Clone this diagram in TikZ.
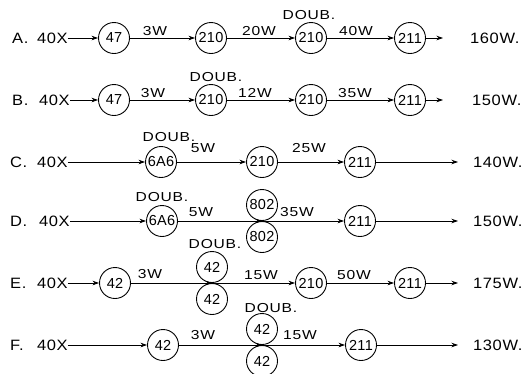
\documentclass[tikz,border=0pt]{standalone}
\usepackage{fontspec}
\setmainfont{Liberation Sans}
\newfontfamily\widesans[FakeStretch=1.2,LetterSpace=6]{Liberation Sans}
\newfontfamily\rowsans[FakeStretch=1.1,LetterSpace=4]{Liberation Sans}
\newfontfamily\tubesans[LetterSpace=2]{Liberation Sans}
\usetikzlibrary{arrows.meta}
\begin{document}
\begin{tikzpicture}[x=1pt,y=-1pt,
  tube/.style={circle, draw, line width=0.9pt, minimum size=31pt, inner sep=0pt, font=\tubesans\fontsize{14.5}{14.5}\selectfont},
  rowlab/.style={anchor=west, inner sep=0pt, font=\rowsans\fontsize{15}{15}\selectfont},
  outlab/.style={anchor=west, inner sep=0pt, font=\rowsans\fontsize{15}{15}\selectfont},
  wlab/.style={inner sep=0pt, font=\widesans\fontsize{13}{13}\selectfont},
  conn/.style={-{Stealth[length=6.5pt,width=4.5pt]}, line width=0.8pt}]
\useasboundingbox[fill=white] (0,0) rectangle (532,373);

% Row A
\node[rowlab] (Al) at (12,38) {A.};
\node[rowlab] (Ax) at (37,38) {40X};
\node[tube] (A1) at (114,38) {47};
\node[tube] (A2) at (211,38) {210};
\node[tube] (A3) at (311,38) {210};
\node[tube] (A4) at (410,38) {211};
\coordinate (Ae) at (443,38);
\node[outlab] (Ao) at (470,38) {160W.};
\node[wlab] (Aw1) at (155,31) {3W};
\node[wlab] (Aw2) at (259,31) {20W};
\node[wlab] (Ad) at (309,15) {DOUB.};
\node[wlab] (Aw3) at (356,31) {40W};
\draw[conn] (Ax) -- (A1);
\draw[conn] (A1) -- (A2);
\draw[conn] (A2) -- (A3);
\draw[conn] (A3) -- (A4);
\draw[conn] (A4) -- (Ae);

% Row B
\node[rowlab] (Bl) at (12,100) {B.};
\node[rowlab] (Bx) at (39,100) {40X};
\node[tube] (B1) at (114,100) {47};
\node[tube] (B2) at (211,100) {210};
\node[tube] (B3) at (311,100) {210};
\node[tube] (B4) at (410,100) {211};
\coordinate (Be) at (443,100);
\node[outlab] (Bo) at (472,100) {150W.};
\node[wlab] (Bw1) at (153,93) {3W};
\node[wlab] (Bd) at (216,77) {DOUB.};
\node[wlab] (Bw2) at (255,93) {12W};
\node[wlab] (Bw3) at (355,93) {35W};
\draw[conn] (Bx) -- (B1);
\draw[conn] (B1) -- (B2);
\draw[conn] (B2) -- (B3);
\draw[conn] (B3) -- (B4);
\draw[conn] (B4) -- (Be);

% Row C
\node[rowlab] (Cl) at (10,162) {C.};
\node[rowlab] (Cx) at (37,162) {40X};
\node[tube] (C1) at (161,162) {6A6};
\node[tube] (C2) at (262,162) {210};
\node[tube] (C3) at (360,162) {211};
\coordinate (Ce) at (458,162);
\node[outlab] (Co) at (473,162) {140W.};
\node[wlab] (Cd) at (169,137) {DOUB.};
\node[wlab] (Cw1) at (203,148) {5W};
\node[wlab] (Cw2) at (309,148) {25W};
\draw[conn] (Cx) -- (C1);
\draw[conn] (C1) -- (C2);
\draw[conn] (C2) -- (C3);
\draw[conn] (C3) -- (Ce);

% Row D
\node[rowlab] (Dl) at (10,221) {D.};
\node[rowlab] (Dx) at (39,221) {40X};
\node[tube] (D1) at (162,221) {6A6};
\node[tube] (D2) at (262,205) {802};
\node[tube] (D3) at (262,237) {802};
\coordinate (Dm) at (262,221);
\node[tube] (D4) at (360,221) {211};
\coordinate (De) at (458,221);
\node[outlab] (Do) at (473,221) {150W.};
\node[wlab] (Dd) at (162,197) {DOUB.};
\node[wlab] (Dw1) at (201,212) {5W};
\node[wlab] (Dw2) at (297,212) {35W};
\draw[conn] (Dx) -- (D1);
\draw[conn] (D1) -- (Dm);
\draw[conn] (Dm) -- (D4);
\draw[conn] (D4) -- (De);

% Row E
\node[rowlab] (El) at (10,283) {E.};
\node[rowlab] (Ex) at (37,283) {40X};
\node[tube] (E1) at (115,283) {42};
\node[tube] (E2) at (212,267) {42};
\node[tube] (E3) at (212,299) {42};
\coordinate (Em) at (212,283);
\node[tube] (E4) at (311,283) {210};
\node[tube] (E5) at (410,283) {211};
\coordinate (Ee) at (458,283);
\node[outlab] (Eo) at (473,283) {175W.};
\node[wlab] (Ew1) at (150,274) {3W};
\node[wlab] (Ed) at (215,244) {DOUB.};
\node[wlab] (Ew2) at (261,275) {15W};
\node[wlab] (Ew3) at (354,275) {50W};
\draw[conn] (Ex) -- (E1);
\draw[conn] (E1) -- (Em);
\draw[conn] (Em) -- (E4);
\draw[conn] (E4) -- (E5);
\draw[conn] (E5) -- (Ee);

% Row F
\node[rowlab] (Fl) at (10,345) {F.};
\node[rowlab] (Fx) at (37,345) {40X};
\node[tube] (F1) at (163,345) {42};
\node[tube] (F2) at (262,329) {42};
\node[tube] (F3) at (262,361) {42};
\coordinate (Fm) at (262,345);
\node[tube] (F4) at (361,345) {211};
\coordinate (Fe) at (458,345);
\node[outlab] (Fo) at (473,345) {130W.};
\node[wlab] (Fd) at (271,308) {DOUB.};
\node[wlab] (Fw1) at (203,335) {3W};
\node[wlab] (Fw2) at (300,335) {15W};
\draw[conn] (Fx) -- (F1);
\draw[conn] (F1) -- (Fm);
\draw[conn] (Fm) -- (F4);
\draw[conn] (F4) -- (Fe);
\end{tikzpicture}
\end{document}
